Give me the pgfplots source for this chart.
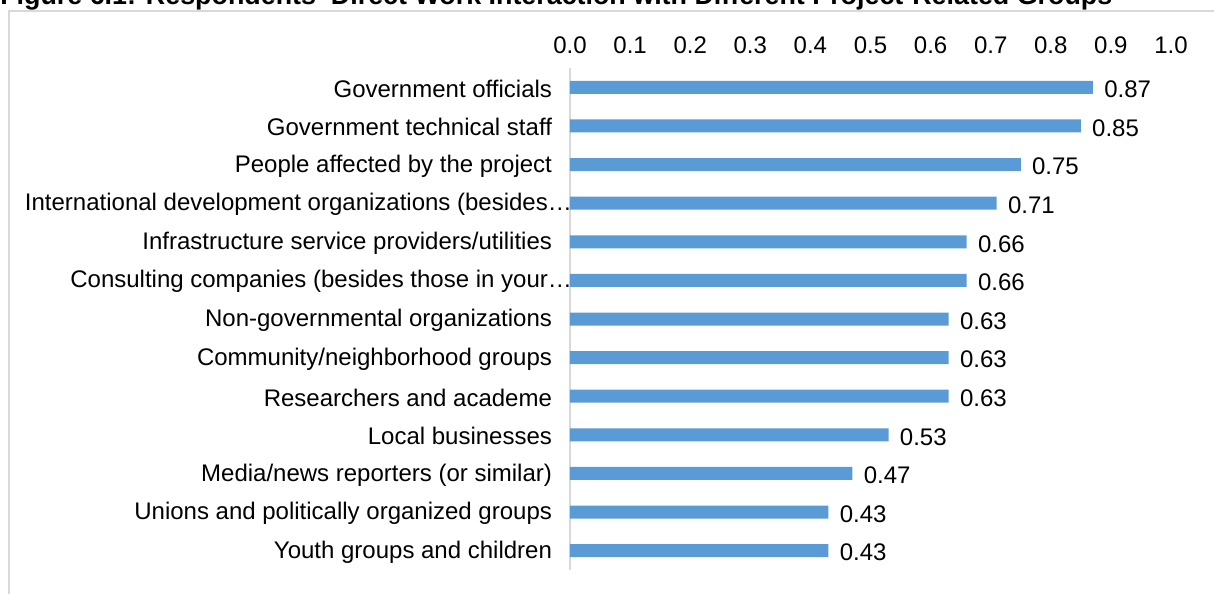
\documentclass[border=0pt]{standalone}
\usepackage{pgfplots}
\pgfplotsset{compat=1.18}
\usepackage{fontspec}
\setmainfont{Liberation Sans}
\definecolor{barblue}{HTML}{5B9BD5}
\definecolor{framegray}{HTML}{D9D9D9}
\definecolor{axisgray}{HTML}{D9D9D9}
\begin{document}
\begin{tikzpicture}[x=0.75pt,y=0.75pt]
\useasboundingbox (0,0) rectangle (1214,593);
\clip (0,0) rectangle (1214,593);
\draw[framegray, line width=1.5pt] (8.5,-20) rectangle (1240,581.5);
\node[anchor=base west, inner sep=0pt] at (0,588) {\resizebox{834pt}{!}{\bfseries Figure 6.1: Respondents' Direct Work Interaction with Different Project-Related Groups}};
\begin{axis}[
  at={(427.5pt,17.25pt)}, anchor=south west,
  scale only axis, width=450.75pt, height=376.5pt,
  xmin=0, xmax=1, ymin=-0.5, ymax=12.5,
  y dir=reverse,
  xbar, bar width=9.75pt,
  axis x line*=top, axis y line*=left,
  x axis line style={draw=none},
  y axis line style={draw=axisgray, line width=1.2pt},
  major tick length=0pt,
  xtick={0,0.1,...,1.0},
  xticklabel pos=upper,
  xticklabel style={/pgf/number format/fixed, /pgf/number format/precision=1, /pgf/number format/fixed zerofill, yshift=7pt},
  /pgf/number format/assume math mode=true,
  ytick={0,...,12},
  yticklabels={Government officials, Government technical staff, People affected by the project, {International development organizations (besides…\hspace*{-15pt}}, Infrastructure service providers/utilities, {Consulting companies (besides those in your…\hspace*{-15pt}}, Non-governmental organizations, Community/neighborhood groups, Researchers and academe, Local businesses, Media/news reporters (or similar), Unions and politically organized groups, Youth groups and children},
  yticklabel style={xshift=-10pt, yshift=-1pt},
  tick label style={font=\fontsize{18}{21}\selectfont},
  nodes near coords,
  nodes near coords style={font=\fontsize{18}{21}\selectfont, xshift=5pt, yshift=-1.5pt, /pgf/number format/fixed, /pgf/number format/precision=2, /pgf/number format/fixed zerofill, /pgf/number format/assume math mode=true},
  clip=false,
]
\addplot[fill=barblue, draw=none] coordinates {
(0.87,0) (0.85,1) (0.75,2) (0.71,3) (0.66,4) (0.66,5) (0.63,6) (0.63,7) (0.63,8) (0.53,9) (0.47,10) (0.43,11) (0.43,12)
};
\end{axis}
\end{tikzpicture}
\end{document}
